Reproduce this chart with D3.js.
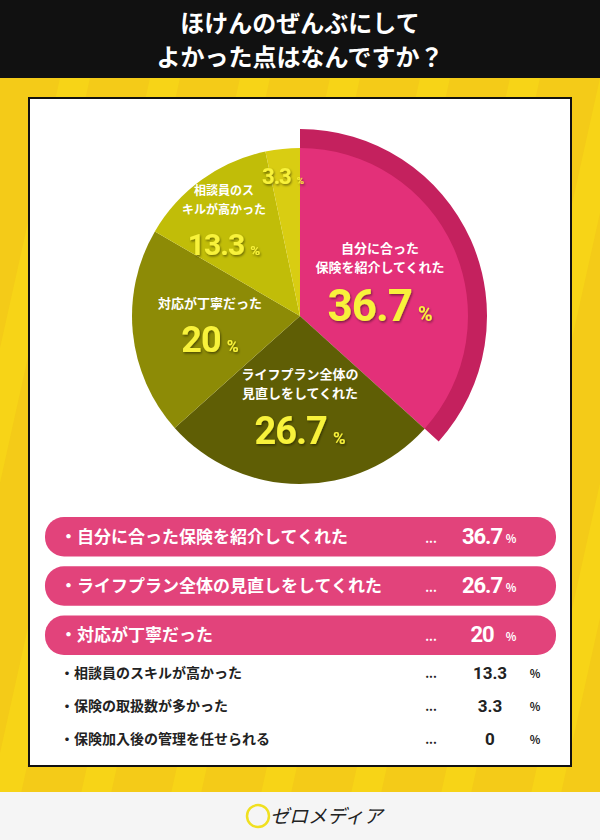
<!DOCTYPE html>
<html><head><meta charset="utf-8">
<script src="https://cdn.jsdelivr.net/npm/d3@7"></script>
<style>body{margin:0;}svg{display:block;font-family:"Noto Sans CJK JP",sans-serif;}</style>
</head><body>
<script>
"use strict";
var labels = ["自分に合った保険を紹介してくれた","ライフプラン全体の見直しをしてくれた","対応が丁寧だった","相談員のスキルが高かった","保険の取扱数が多かった","保険加入後の管理を任せられる"];
var values = [36.7, 26.7, 20, 13.3, 3.3, 0];
var valueText = ["36.7","26.7","20","13.3","3.3","0"];
var pieLabels = [["自分に合った","保険を紹介してくれた"],["ライフプラン全体の","見直しをしてくれた"],["対応が丁寧だった"],["相談員のス","キルが高かった"],[],[]];
var colors = ["#e33079","#5f5e05","#8d8b06","#c1bd08","#d9cd12","#ccc"];

var W = 600, H = 840;
var svg = d3.select("body").append("svg").attr("width", W).attr("height", H);

var f = svg.append("defs").append("filter").attr("id","sh").attr("x","-20%").attr("y","-20%").attr("width","140%").attr("height","140%");
f.append("feDropShadow").attr("dx",1).attr("dy",1.5).attr("stdDeviation",1).attr("flood-color","#000").attr("flood-opacity",0.45);

// background
svg.append("rect").attr("width", W).attr("height", H).attr("fill", "#f7d417");
var stripes = svg.append("g");
d3.range(-4, 12).forEach(function(i){
  stripes.append("path")
    .attr("d", "M" + (i*90) + ",78 l60,0 l-160,720 l-60,0 z")
    .attr("fill", "#f2c419").attr("opacity", 0.6);
});
svg.append("rect").attr("width", W).attr("height", 78).attr("fill", "#111");
svg.append("text").attr("x", 300).attr("y", 32).attr("text-anchor","middle")
  .attr("fill","#fff").attr("font-size",24).attr("font-weight",700).text("ほけんのぜんぶにして");
svg.append("text").attr("x", 300).attr("y", 66).attr("text-anchor","middle")
  .attr("fill","#fff").attr("font-size",24).attr("font-weight",700).text("よかった点はなんですか？");

svg.append("rect").attr("x",29).attr("y",98).attr("width",542).attr("height",668)
  .attr("fill","#fff").attr("stroke","#111").attr("stroke-width",2);

// footer
svg.append("rect").attr("x",0).attr("y",792).attr("width",W).attr("height",48).attr("fill","#f5f5f5");
svg.append("circle").attr("cx",258).attr("cy",816).attr("r",11).attr("fill","none").attr("stroke","#f0e020").attr("stroke-width",2.5);
svg.append("text").attr("x",270).attr("y",823).attr("font-size",19).attr("fill","#222").attr("font-style","italic").text("ゼロメディア");

// pie
var cx = 300, cy = 316, R = 168;
var pie = d3.pie().sort(null).value(function(d){ return d; });
var arcs = pie(values);
var arc = d3.arc().innerRadius(0).outerRadius(R);
var g = svg.append("g").attr("transform","translate("+cx+","+cy+")");
g.append("path").attr("d", d3.arc().innerRadius(R-2).outerRadius(187)(arcs[0])).attr("fill","#c4215e");
g.selectAll("path.s").data(arcs).enter().append("path").attr("class","s")
  .attr("d", arc).attr("fill", function(d,i){ return colors[i]; });

var labelPos = [[80,-22],[0,104],[-90,14],[-76,-80],[-17,-146]];
var bigSize = [44,38,36,30,22];
arcs.forEach(function(a,i){
  if (i > 4) return;
  var p = labelPos[i], ls = pieLabels[i];
  var y0 = p[1] - ls.length*19 - 3;
  ls.forEach(function(l,j){
    g.append("text").attr("x",p[0]).attr("y",y0 + j*19).attr("text-anchor","middle")
      .attr("fill","#fff").attr("font-size", i==3 ? 12 : 13).attr("font-weight",700).text(l);
  });
  var t = g.append("text").attr("x",p[0]).attr("y",p[1] + bigSize[i]*0.62).attr("text-anchor","middle")
    .attr("fill","#f8f23a").attr("font-weight",700).attr("font-family","Roboto, sans-serif")
    .attr("filter","url(#sh)");
  t.append("tspan").attr("font-size",bigSize[i]).attr("letter-spacing",-1).text(valueText[i]);
  t.append("tspan").attr("font-size",bigSize[i]*0.45).attr("dx",6).text("%");
});

// list
var y = d3.scaleBand().domain(d3.range(3)).range([517,655]).paddingInner(0.2);
labels.forEach(function(l,i){
  var yy, big = i < 3;
  if (big) {
    svg.append("rect").attr("x",45).attr("y",y(i)).attr("width",511).attr("height",y.bandwidth())
      .attr("rx",19).attr("fill","#e2437b");
    yy = y(i) + y.bandwidth()/2 + 6;
  } else {
    yy = 678 + (i-3)*33;
  }
  var col = big ? "#fff" : "#222";
  svg.append("text").attr("x",60).attr("y",yy).attr("fill",col)
    .attr("font-size", big ? 17 : 14).attr("font-weight",700).text("・" + l);
  svg.append("text").attr("x",431).attr("y",yy).attr("text-anchor","middle").attr("fill",col)
    .attr("font-size",12).attr("font-weight",700).text("...");
  var vx = big ? 482 : 490;
  svg.append("text").attr("x",vx).attr("y",yy+1).attr("text-anchor","middle").attr("fill",col)
    .attr("font-family","Roboto, sans-serif").attr("font-size", big ? 22 : 17).attr("font-weight",700)
    .attr("letter-spacing", big ? -1 : 0).text(valueText[i]);
  svg.append("text").attr("x",big ? 511 : 535).attr("y",yy).attr("text-anchor","middle").attr("fill",col)
    .attr("font-size",11).attr("font-weight",700).text("%");
});
</script>
</body></html>
